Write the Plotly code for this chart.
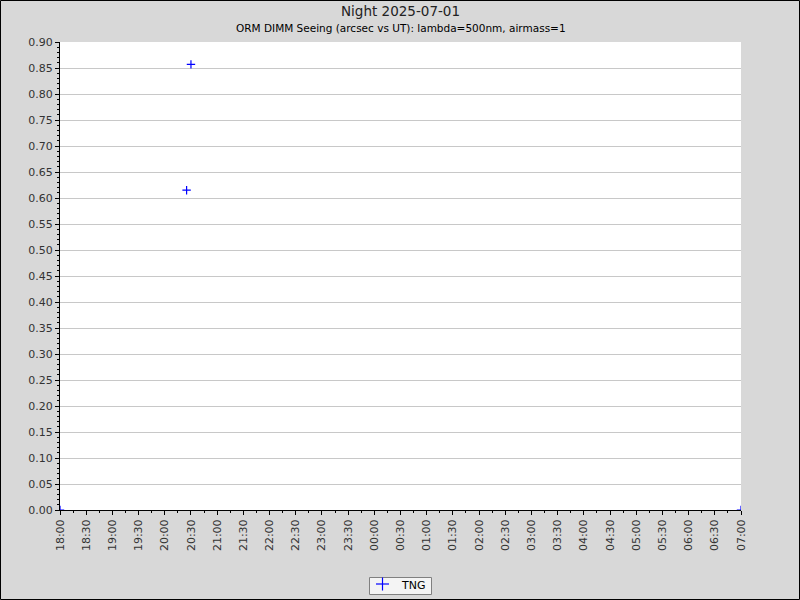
import plotly.graph_objects as go

times = ["2025-07-01 18:00", "2025-07-01 20:25", "2025-07-01 20:30", "2025-07-02 07:00"]
seeing = [0.0, 0.615, 0.857, 0.0]
series_name = "TNG"
title_text = "Night 2025-07-01"
subtitle_text = "ORM DIMM Seeing (arcsec vs UT): lambda=500nm, airmass=1"

L, R, T, B = 60, 59, 42, 90
W, H = 800, 600
pw, ph = W - L - R, H - T - B


def px(x):
    return (x - L) / pw


def py(y):
    return (H - B - y) / ph


fig = go.Figure()
fig.add_trace(go.Scatter(
    x=times, y=seeing, mode="markers", name=series_name, showlegend=False,
    marker=dict(symbol="cross-thin", size=6, line=dict(color="#0000ff", width=1.2), color="#0000ff"),
    cliponaxis=True,
))

blue = "#0000ff"
shapes = [
    dict(type="rect", xref="paper", yref="paper",
         x0=px(0.5), x1=px(W - 0.5), y0=py(H - 0.5), y1=py(0.5),
         line=dict(color="#000000", width=1), layer="below"),
    # legend box
    dict(type="rect", xref="paper", yref="paper",
         x0=px(369.5), x1=px(431.5), y0=py(594.5), y1=py(577.5),
         line=dict(color="#808080", width=1), fillcolor="#f4f4f4"),
    # legend symbol
    dict(type="line", xref="paper", yref="paper",
         x0=px(376), x1=px(389), y0=py(584), y1=py(584), line=dict(color=blue, width=1.2)),
    dict(type="line", xref="paper", yref="paper",
         x0=px(382.5), x1=px(382.5), y0=py(577.5), y1=py(590.5), line=dict(color=blue, width=1.2)),
]

fig.update_layout(
    width=W, height=H,
    margin=dict(l=L, r=R, t=T, b=B, autoexpand=False),
    paper_bgcolor="#d8d8d8",
    plot_bgcolor="#ffffff",
    font=dict(family="DejaVu Sans", size=11, color="#333333"),
    showlegend=False,
    annotations=[
        dict(text=title_text, xref="paper", yref="paper", x=0.5,
             y=py(11), xanchor="center", yanchor="middle", showarrow=False,
             font=dict(size=13.5, color="#222222")),
        dict(text=subtitle_text, xref="paper", yref="paper", x=0.5,
             y=py(28), xanchor="center", yanchor="middle", showarrow=False,
             font=dict(size=10.5, color="#000000")),
        dict(text=series_name, xref="paper", yref="paper", x=px(399),
             y=py(585.5), xanchor="left", yanchor="middle", showarrow=False,
             font=dict(size=11, color="#000000")),
    ],
    shapes=shapes,
)

fig.update_xaxes(
    type="date",
    range=["2025-07-01 18:00", "2025-07-02 07:00"],
    dtick=30 * 60 * 1000, tick0="2025-07-01 18:00",
    tickformat="%H:%M", tickangle=-90,
    ticks="outside", ticklen=4, tickcolor="#000000",
    showgrid=False, showline=True, linecolor="#000000", linewidth=1,
    zeroline=False, automargin=False,
    minor=dict(dtick=15 * 60 * 1000, ticks="outside", ticklen=2, tickcolor="#000000", showgrid=False),
    tickfont=dict(size=11, color="#333333"),
)
fig.update_yaxes(
    range=[0, 0.9],
    dtick=0.05, tick0=0, tickformat=".2f",
    ticks="outside", ticklen=4, tickcolor="#000000",
    showgrid=True, gridcolor="#c8c8c8", gridwidth=1,
    showline=True, linecolor="#000000", linewidth=1,
    zeroline=False, automargin=False,
    minor=dict(dtick=0.01, ticks="outside", ticklen=2, tickcolor="#000000", showgrid=False),
    tickfont=dict(size=11, color="#333333"),
)

fig.write_html("out.html", config={"displayModeBar": False},
               post_script="document.body.style.margin='0';")
